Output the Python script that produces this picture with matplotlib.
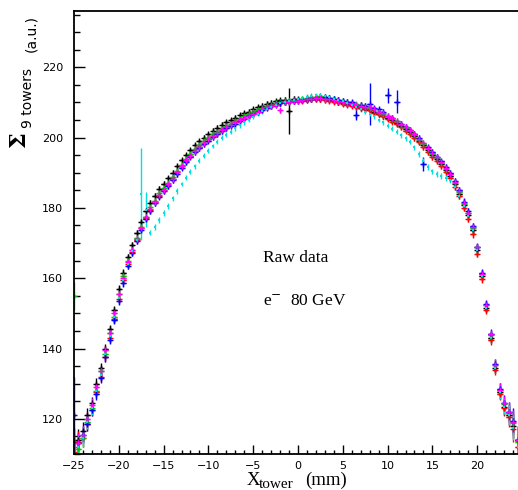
import matplotlib.pyplot as plt
from matplotlib.ticker import MultipleLocator

# bin centres (mm)
x_mm = [-25.0, -24.5, -24.0, -23.5, -23.0, -22.5, -22.0, -21.5, -21.0, -20.5,
        -20.0, -19.5, -19.0, -18.5, -18.0, -17.5, -17.0, -16.5, -16.0, -15.5,
        -15.0, -14.5, -14.0, -13.5, -13.0, -12.5, -12.0, -11.5, -11.0, -10.5,
        -10.0, -9.5, -9.0, -8.5, -8.0, -7.5, -7.0, -6.5, -6.0, -5.5,
        -5.0, -4.5, -4.0, -3.5, -3.0, -2.5, -2.0, -1.5, -1.0, -0.5,
        0.0, 0.5, 1.0, 1.5, 2.0, 2.5, 3.0, 3.5, 4.0, 4.5,
        5.0, 5.5, 6.0, 6.5, 7.0, 7.5, 8.0, 8.5, 9.0, 9.5,
        10.0, 10.5, 11.0, 11.5, 12.0, 12.5, 13.0, 13.5, 14.0, 14.5,
        15.0, 15.5, 16.0, 16.5, 17.0, 17.5, 18.0, 18.5, 19.0, 19.5,
        20.0, 20.5, 21.0, 21.5, 22.0, 22.5, 23.0, 23.5, 24.0, 24.5,
        25.0]
bin_half = 0.25

# typical statistical error per bin
err_common = [4.0, 3.0, 2.5, 2.0, 1.8, 1.5, 1.4, 1.3, 1.2, 1.1,
              1.0, 1.0, 0.9, 0.9, 0.8, 0.8, 0.8, 0.8, 0.8, 0.8,
              0.8, 0.8, 0.8, 0.8, 0.7, 0.7, 0.7, 0.7, 0.7, 0.7,
              0.7, 0.7, 0.7, 0.7, 0.7, 0.7, 0.7, 0.7, 0.7, 0.7,
              0.7, 0.7, 0.7, 0.7, 0.7, 0.7, 0.7, 0.7, 0.7, 0.7,
              0.7, 0.7, 0.7, 0.7, 0.7, 0.7, 0.7, 0.7, 0.7, 0.7,
              0.7, 0.7, 0.7, 0.7, 0.7, 0.7, 0.7, 0.7, 0.7, 0.7,
              0.7, 0.7, 0.7, 0.7, 0.7, 0.7, 0.8, 0.8, 0.8, 0.8,
              0.8, 0.8, 0.8, 0.8, 0.8, 0.9, 0.9, 1.0, 1.0, 1.0,
              1.0, 1.1, 1.2, 1.3, 1.5, 1.8, 2.2, 2.8, 3.5, 4.0,
              4.0]

black_y = [113.5, 114.0, 116.5, 121.0, 124.5, 130.0, 134.5, 140.0, 145.5, 151.0,
           157.0, 161.5, 166.0, 169.5, 172.8, 176.0, 179.0, 181.5, 183.5, 185.3,
           186.8, 188.4, 190.0, 191.8, 193.5, 195.0, 196.4, 197.8, 198.9, 200.0,
           201.0, 201.9, 202.8, 203.6, 204.3, 205.0, 205.6, 206.3, 206.9, 207.4,
           208.0, 208.6, 209.1, 209.6, 209.9, 210.3, 210.6, 210.8, 207.5, 211.0,
           210.9, 210.6, 210.7, 211.0, 211.1, 211.0, 210.9, 210.7, 210.4, 210.0,
           209.8, 209.6, 209.3, 208.9, 208.5, 208.2, 207.9, 207.4, 206.8, 206.2,
           205.5, 204.9, 204.1, 203.3, 202.4, 201.5, 200.4, 199.1, 197.8, 196.5,
           195.1, 193.8, 192.5, 190.8, 189.0, 186.8, 184.0, 180.8, 178.0, 173.6,
           168.0, 160.6, 151.5, 143.0, 134.6, 127.5, 123.4, 121.0, 118.0, 114.0,
           110.0]

red_y = [110.5, 113.5, 114.5, 118.5, 122.5, 127.5, 132.0, 137.5, 143.0, 148.5,
         154.0, 159.5, 164.0, 167.5, 171.0, 174.2, 177.0, 179.4, 181.8, 183.5,
         185.0, 186.6, 188.3, 190.1, 191.8, 193.4, 194.9, 196.2, 197.4, 198.5,
         199.5, 200.5, 201.3, 202.2, 203.0, 203.7, 204.4, 205.1, 205.7, 206.3,
         206.9, 207.5, 208.1, 208.6, 209.1, 209.5, 209.8, 210.0, 210.2, 210.4,
         210.4, 210.5, 210.7, 210.9, 211.0, 210.9, 210.6, 210.5, 210.2, 210.0,
         209.6, 209.4, 209.0, 208.8, 208.5, 208.2, 207.8, 207.0, 206.6, 206.0,
         205.3, 204.5, 203.8, 202.9, 202.0, 201.0, 199.8, 198.6, 197.2, 195.8,
         194.5, 193.2, 191.8, 190.2, 188.4, 186.0, 183.3, 180.0, 176.9, 172.5,
         167.0, 159.8, 151.0, 142.3, 134.0, 127.2, 123.0, 120.6, 117.0, 112.0,
         108.5]

green_y = [155.0, 111.5, 114.5, 119.0, 123.0, 128.0, 133.5, 138.5, 144.5, 149.0,
           155.5, 160.5, 164.8, 168.0, 171.3, 174.5, 177.5, 180.2, 182.0, 184.2,
           185.6, 187.2, 188.9, 190.6, 192.3, 193.9, 195.4, 196.7, 197.9, 198.9,
           199.9, 200.9, 201.7, 202.5, 203.3, 204.0, 204.7, 205.4, 206.0, 206.6,
           207.2, 207.8, 208.4, 208.9, 209.4, 209.8, 210.1, 210.3, 210.5, 210.6,
           210.8, 211.0, 211.3, 211.5, 211.6, 211.7, 211.5, 211.3, 211.0, 210.7,
           210.4, 210.0, 209.8, 209.5, 209.2, 208.9, 208.5, 208.0, 207.4, 206.8,
           206.0, 205.3, 204.6, 203.7, 202.8, 201.9, 200.7, 199.4, 198.1, 196.7,
           195.4, 194.1, 192.7, 191.1, 189.5, 187.2, 184.5, 181.2, 178.5, 174.2,
           168.8, 161.3, 152.3, 143.8, 135.3, 128.3, 124.3, 121.8, 118.8, 113.5,
           109.5]

blue_y = [121.0, 113.0, 115.5, 118.5, 122.5, 127.0, 131.5, 137.5, 142.5, 148.0,
          153.5, 158.5, 163.5, 167.3, 170.5, 173.8, 176.8, 179.2, 181.3, 183.2,
          184.7, 186.3, 188.0, 189.7, 191.4, 193.0, 194.5, 195.8, 197.0, 198.1,
          199.1, 200.1, 201.0, 201.8, 202.6, 203.3, 204.0, 204.7, 205.4, 206.0,
          206.6, 207.2, 207.8, 208.4, 208.9, 209.3, 209.7, 210.0, 210.2, 210.3,
          210.5, 210.7, 210.9, 211.1, 211.2, 211.3, 211.4, 211.3, 211.0, 210.8,
          210.5, 210.2, 210.0, 206.5, 209.4, 209.0, 209.5, 208.4, 208.0, 207.4,
          212.0, 205.6, 210.2, 204.0, 203.1, 202.2, 201.0, 199.8, 192.5, 197.2,
          195.9, 194.6, 193.2, 191.6, 189.9, 187.6, 185.0, 181.8, 179.0, 174.8,
          169.0, 161.6, 152.6, 144.2, 135.6, 128.5, 124.6, 122.0, 119.5, 114.0,
          110.0]

magenta_y = [112.0, 113.0, 115.5, 120.0, 124.0, 129.0, 133.5, 139.5, 144.5, 150.0,
             155.5, 160.0, 164.5, 168.0, 171.2, 174.4, 177.3, 179.6, 181.8, 183.6,
             185.1, 186.7, 188.3, 190.2, 191.9, 193.5, 194.9, 196.2, 197.4, 198.5,
             199.5, 200.5, 201.3, 202.1, 202.9, 203.6, 204.3, 205.0, 205.6, 206.2,
             206.8, 207.4, 208.0, 208.6, 209.0, 209.4, 207.8, 210.0, 210.2, 210.3,
             210.5, 210.7, 210.9, 211.1, 211.2, 211.2, 211.1, 210.9, 210.6, 210.4,
             210.1, 209.8, 209.6, 209.3, 209.0, 208.8, 208.6, 208.0, 207.4, 206.9,
             206.2, 205.5, 204.7, 203.9, 203.0, 202.1, 201.0, 199.7, 198.4, 197.0,
             195.7, 194.4, 193.0, 191.4, 189.7, 187.4, 184.8, 181.5, 178.6, 174.5,
             168.8, 161.3, 152.4, 144.0, 135.4, 128.3, 124.4, 122.0, 119.0, 114.0,
             110.0]

cyan_y = [110.5, 112.0, 114.5, 119.0, 123.0, 128.0, 132.5, 138.5, 143.5, 149.0,
          154.5, 159.5, 164.0, 167.8, 171.0, 184.0, 179.5, 173.0, 174.6, 176.5,
          178.5, 180.6, 182.7, 184.8, 186.8, 188.6, 190.3, 191.9, 193.4, 194.9,
          196.3, 197.6, 198.8, 199.9, 200.8, 201.7, 202.6, 203.5, 204.3, 205.1,
          205.9, 206.7, 207.5, 208.2, 208.8, 209.3, 209.8, 210.1, 210.4, 210.6,
          210.9, 211.2, 211.6, 211.9, 212.0, 212.0, 211.8, 211.5, 211.1, 210.7,
          210.3, 209.8, 209.3, 208.6, 208.0, 207.4, 206.8, 206.0, 205.0, 204.3,
          203.4, 202.5, 201.6, 200.7, 199.8, 198.8, 197.2, 195.4, 193.4, 191.6,
          190.4, 189.6, 189.0, 188.5, 187.8, 186.0, 183.5, 180.6, 177.8, 173.6,
          168.0, 160.5, 151.5, 143.0, 134.5, 127.5, 123.5, 121.0, 117.5, 112.0,
          108.5]

# bins with unusually large errors
black_spike_x = [-1.0]
black_spike_err = [6.5]
blue_spike_x = [-25.0, 6.5, 8.0, 10.0, 11.0, 14.0]
blue_spike_err = [11.0, 1.5, 6.0, 2.2, 3.2, 2.0]
cyan_spike_x = [-17.5, -17.0]
cyan_spike_err = [13.0, 5.0]


def errors(spike_x, spike_err):
    e = list(err_common)
    for sx, se in zip(spike_x, spike_err):
        e[x_mm.index(sx)] = se
    return e


W, H = 518, 490
fig = plt.figure(figsize=(W / 100, H / 100), dpi=100)
ax = fig.add_axes([74 / W, 1 - 454 / H, 448 / W, 443 / H])

series = [
    (black_y, "black", black_spike_x, black_spike_err),
    (red_y, "red", [], []),
    (green_y, "#00c800", [], []),
    (blue_y, "blue", blue_spike_x, blue_spike_err),
    (magenta_y, "magenta", [], []),
]
for y, c, sx, se in series:
    ax.errorbar(x_mm, y, yerr=errors(sx, se), xerr=bin_half, fmt="+", color=c,
                ms=5, mew=1.0, elinewidth=1.0, capsize=0)

ax.errorbar(x_mm, cyan_y, yerr=errors(cyan_spike_x, cyan_spike_err), fmt="s",
            color="#00e0e0", ms=2.0, mew=0, elinewidth=1.0, capsize=0)

ax.set_xlim(-25, 25)
ax.set_ylim(110, 236)
ax.set_xticks([-25, -20, -15, -10, -5, 0, 5, 10, 15, 20])
ax.xaxis.set_minor_locator(MultipleLocator(1))
ax.yaxis.set_major_locator(MultipleLocator(20))
ax.yaxis.set_minor_locator(MultipleLocator(5))
ax.tick_params(axis="x", which="major", direction="in", length=6.5, width=1, pad=5, labelsize=8)
ax.tick_params(axis="x", which="minor", direction="in", length=3, width=1)
ax.tick_params(axis="y", which="major", direction="in", length=8, width=1, pad=8, labelsize=8)
ax.tick_params(axis="y", which="minor", direction="in", length=4.3, width=1)
for s in ax.spines.values():
    s.set_linewidth(1.3)

ax.text(-3.87, 164.5, "Raw data", family="Liberation Serif", fontsize=12.5, va="baseline")
ax.text(-3.87, 152.4, "e$^{-}$  80 GeV", family="Liberation Serif", fontsize=12.5,
        va="baseline", math_fontfamily="dejavuserif")


def px(xp, yp):
    return xp / W, 1 - yp / H


# y axis title, drawn in pieces like the original
fig.text(*px(19.5, 140), "\u03a3", rotation=90, fontsize=16, fontweight="bold",
         family="DejaVu Serif", ha="center", va="center")
fig.text(*px(28, 98), "9 towers", rotation=90, fontsize=10, ha="center", va="center")
fig.text(*px(31, 34), "(a.u.)", rotation=90, fontsize=10, ha="center", va="center")

# x axis title
fig.text(*px(247, 485), "X", family="Liberation Serif", fontsize=13.5, va="baseline")
fig.text(*px(259, 487.5), "tower", family="Liberation Serif", fontsize=11, va="baseline")
fig.text(*px(305, 485), "(mm)", family="Liberation Serif", fontsize=13.5, va="baseline")

plt.savefig("out.png", dpi=100)
